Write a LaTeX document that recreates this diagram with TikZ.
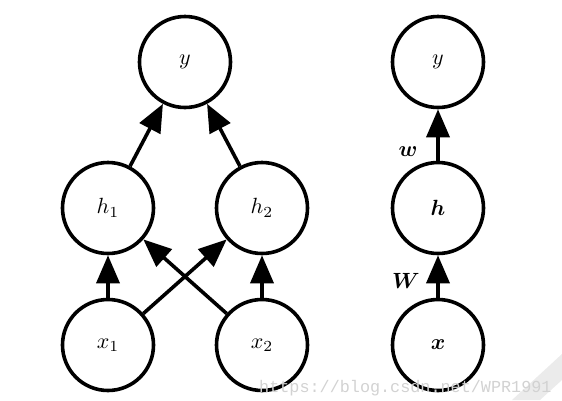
\documentclass[tikz,border=0pt]{standalone}
\usepackage{fontspec}
\usepackage{amsmath}
\usepackage{bm}
\usepackage{graphicx}
\newfontfamily\wmfont{Liberation Mono}
\newcommand{\unitmath}[1]{\scalebox{2.2}{$#1$}}
\usetikzlibrary{arrows.meta}
\begin{document}
\begin{tikzpicture}[x=1pt,y=-1pt,
  unit/.style={circle,draw,line width=3.6pt,minimum size=91pt,inner sep=0pt},
  conn/.style={line width=3.6pt,-{Triangle[length=28pt,width=23pt]}},
  lab/.style={inner sep=0pt}]
\useasboundingbox (0,0) rectangle (562,400);
\fill[gray!16] (512,400) -- (562,354) -- (562,380) -- (540,400) -- cycle;
\node[unit] (y) at (185,62) {\unitmath{y}};
\node[unit] (h1) at (108,208) {\unitmath{h_1}};
\node[unit] (h2) at (262,208) {\unitmath{h_2}};
\node[unit] (x1) at (108,345) {\unitmath{x_1}};
\node[unit] (x2) at (262,345) {\unitmath{x_2}};
\node[unit] (yr) at (438,62) {\unitmath{y}};
\node[unit] (hr) at (438,208) {\unitmath{\bm{h}}};
\node[unit] (xr) at (438,345) {\unitmath{\bm{x}}};
\draw[conn] (h1) -- (y);
\draw[conn] (h2) -- (y);
\draw[conn] (x1) -- (h1);
\draw[conn] (x2) -- (h2);
\draw[conn] (x1) -- (h2);
\draw[conn] (x2) -- (h1);
\draw[conn] (hr) -- (yr);
\draw[conn] (xr) -- (hr);
\node[lab] (wl) at (408,152) {\unitmath{\bm{w}}};
\node[lab] (Wl) at (406,281) {\unitmath{\bm{W}}};
\node[text=gray!35,font=\wmfont\fontsize{16.8}{18}\selectfont,anchor=base west,inner sep=0pt] (wm) at (259,392) {https://blog.csdn.net/WPR1991};
\end{tikzpicture}
\end{document}
